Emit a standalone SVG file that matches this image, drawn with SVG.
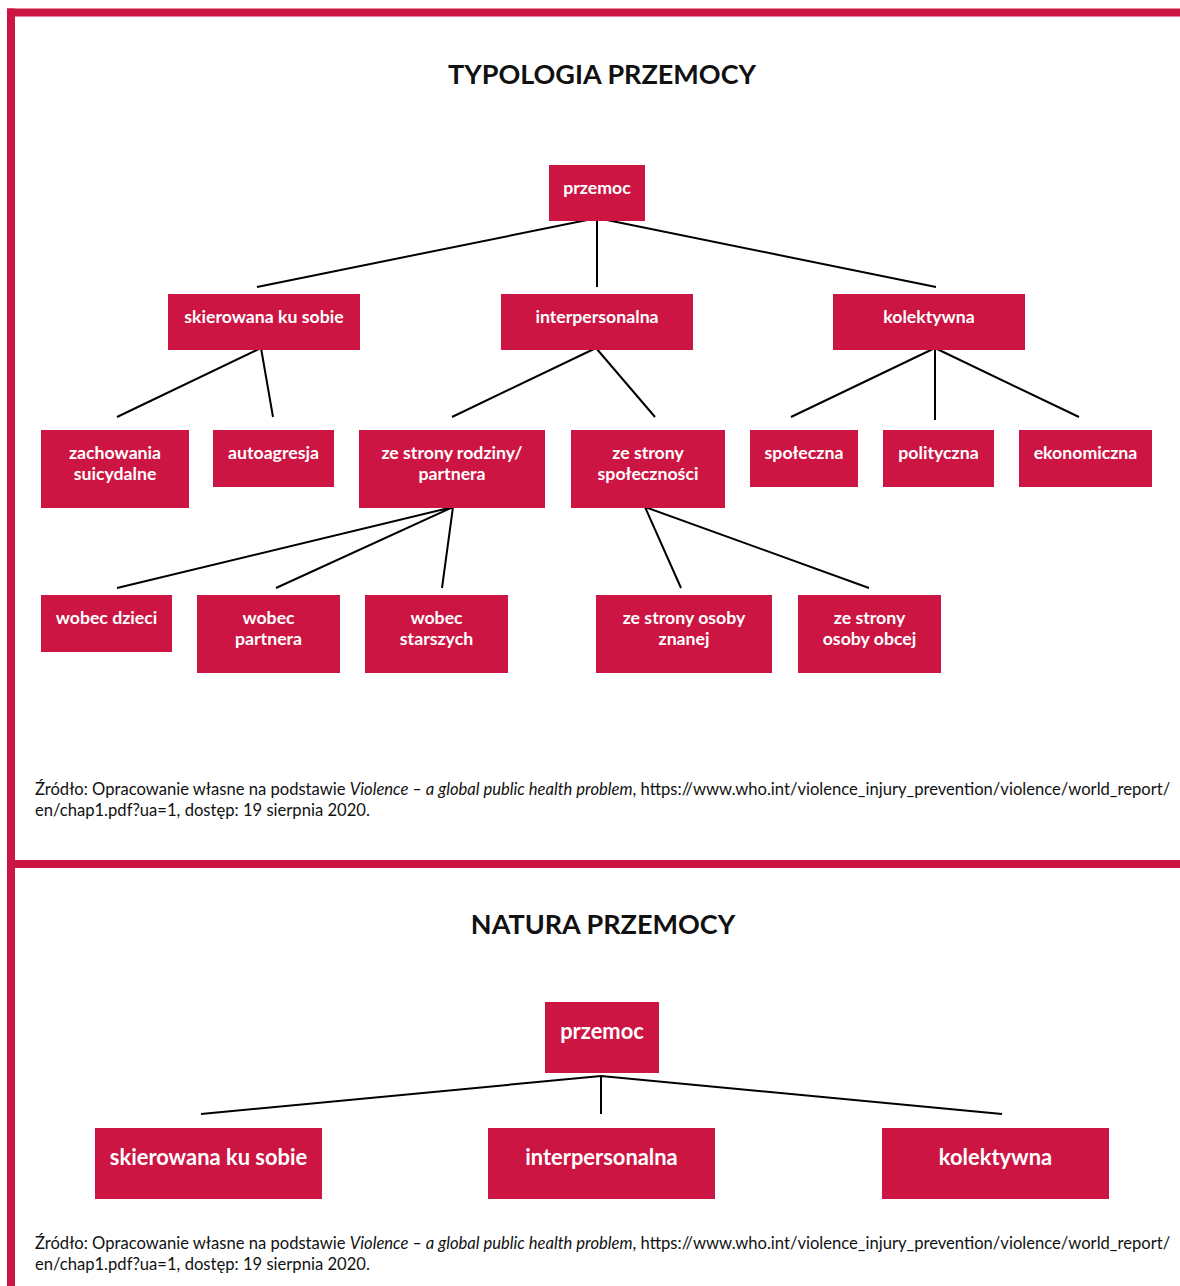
<svg xmlns="http://www.w3.org/2000/svg" width="1180" height="1286" viewBox="0 0 1180 1286">
<style>
.box{fill:#cd1543}
.t{font-family:Lato,"Noto Sans","Liberation Sans",sans-serif;font-weight:bold;font-size:17.7px;fill:#fff;text-anchor:middle}
.tb{font-family:Lato,"Noto Sans","Liberation Sans",sans-serif;font-weight:bold;font-size:21.9px;fill:#fff;text-anchor:middle}
.title{font-family:Lato,"Noto Sans","Liberation Sans",sans-serif;font-weight:bold;font-size:27px;fill:#111;text-anchor:middle}
.src{font-family:Lato,"Noto Sans","Liberation Sans",sans-serif;font-size:16.6px;fill:#111}
.frame{fill:#cd1543}
.ln{stroke:#000;stroke-width:2;fill:none}
</style>
<rect width="1180" height="1286" fill="#fff"/>
<g id="frame">
<rect class="frame" x="7" y="8.5" width="1173" height="8"/>
<rect class="frame" x="7" y="8.5" width="8" height="1277.5"/>
<rect class="frame" x="7" y="860" width="1173" height="8"/>
</g>
<text class="title" x="602" y="84">TYPOLOGIA PRZEMOCY</text>
<text class="title" x="603" y="934">NATURA PRZEMOCY</text>
<g id="connectors">
<path class="ln" d="M597,218 L257,287 M597,218 L597,287 M597,218 L936,287"/>
<path class="ln" d="M261,348 L117,417 M261,348 L273,417"/>
<path class="ln" d="M596,348 L452,417 M596,348 L655,417"/>
<path class="ln" d="M935,348 L791,417 M935,348 L935,420 M935,348 L1079,417"/>
<path class="ln" d="M453,507 L117,588 M453,507 L276,588 M453,507 L442,588"/>
<path class="ln" d="M645,507 L681,588 M645,507 L869,588"/>
<path class="ln" stroke-width="2.5" d="M601,1076 L201,1114 M601,1076 L601,1114 M601,1076 L1002,1114"/>
</g>
<g id="n-przemoc"><rect class="box" x="549" y="165" width="96" height="56"/><text class="t" x="597" y="194">przemoc</text></g>
<g id="n-skierowana"><rect class="box" x="168" y="294" width="192" height="56"/><text class="t" x="264" y="323">skierowana ku sobie</text></g>
<g id="n-interpersonalna"><rect class="box" x="501" y="294" width="192" height="56"/><text class="t" x="597" y="323">interpersonalna</text></g>
<g id="n-kolektywna"><rect class="box" x="833" y="294" width="192" height="56"/><text class="t" x="929" y="323">kolektywna</text></g>
<g id="n-zachowania"><rect class="box" x="41" y="430" width="148" height="78"/><text class="t" x="115" y="459">zachowania</text><text class="t" x="115" y="480">suicydalne</text></g>
<g id="n-autoagresja"><rect class="box" x="213" y="430" width="121" height="57"/><text class="t" x="273.5" y="459">autoagresja</text></g>
<g id="n-rodziny"><rect class="box" x="359" y="430" width="186" height="78"/><text class="t" x="452" y="459">ze strony rodziny/</text><text class="t" x="452" y="480">partnera</text></g>
<g id="n-spolecznosci"><rect class="box" x="571" y="430" width="154" height="78"/><text class="t" x="648" y="459">ze strony</text><text class="t" x="648" y="480">społeczności</text></g>
<g id="n-spoleczna"><rect class="box" x="750" y="430" width="108" height="57"/><text class="t" x="804" y="459">społeczna</text></g>
<g id="n-polityczna"><rect class="box" x="883" y="430" width="111" height="57"/><text class="t" x="938.5" y="459">polityczna</text></g>
<g id="n-ekonomiczna"><rect class="box" x="1019" y="430" width="133" height="57"/><text class="t" x="1085.5" y="459">ekonomiczna</text></g>
<g id="n-dzieci"><rect class="box" x="41" y="595" width="131" height="57"/><text class="t" x="106.5" y="624">wobec dzieci</text></g>
<g id="n-partnera"><rect class="box" x="197" y="595" width="143" height="78"/><text class="t" x="268.5" y="624">wobec</text><text class="t" x="268.5" y="645">partnera</text></g>
<g id="n-starszych"><rect class="box" x="365" y="595" width="143" height="78"/><text class="t" x="436.5" y="624">wobec</text><text class="t" x="436.5" y="645">starszych</text></g>
<g id="n-znanej"><rect class="box" x="596" y="595" width="176" height="78"/><text class="t" x="684" y="624">ze strony osoby</text><text class="t" x="684" y="645">znanej</text></g>
<g id="n-obcej"><rect class="box" x="798" y="595" width="143" height="78"/><text class="t" x="869.5" y="624">ze strony</text><text class="t" x="869.5" y="645">osoby obcej</text></g>
<text class="src" x="35" y="795">Źródło: Opracowanie własne na podstawie <tspan font-style="italic">Violence – a global public health problem</tspan>, https://www.who.int/violence_injury_prevention/violence/world_report/</text>
<text class="src" x="35" y="816">en/chap1.pdf?ua=1, dostęp: 19 sierpnia 2020.</text>
<g id="n2-przemoc"><rect class="box" x="545" y="1002" width="114" height="71"/><text class="tb" x="602" y="1039">przemoc</text></g>
<g id="n2-skierowana"><rect class="box" x="95" y="1128" width="227" height="71"/><text class="tb" x="208.5" y="1165">skierowana ku sobie</text></g>
<g id="n2-interpersonalna"><rect class="box" x="488" y="1128" width="227" height="71"/><text class="tb" x="601.5" y="1165">interpersonalna</text></g>
<g id="n2-kolektywna"><rect class="box" x="882" y="1128" width="227" height="71"/><text class="tb" x="995.5" y="1165">kolektywna</text></g>
<text class="src" x="35" y="1249">Źródło: Opracowanie własne na podstawie <tspan font-style="italic">Violence – a global public health problem</tspan>, https://www.who.int/violence_injury_prevention/violence/world_report/</text>
<text class="src" x="35" y="1270">en/chap1.pdf?ua=1, dostęp: 19 sierpnia 2020.</text>
</svg>
